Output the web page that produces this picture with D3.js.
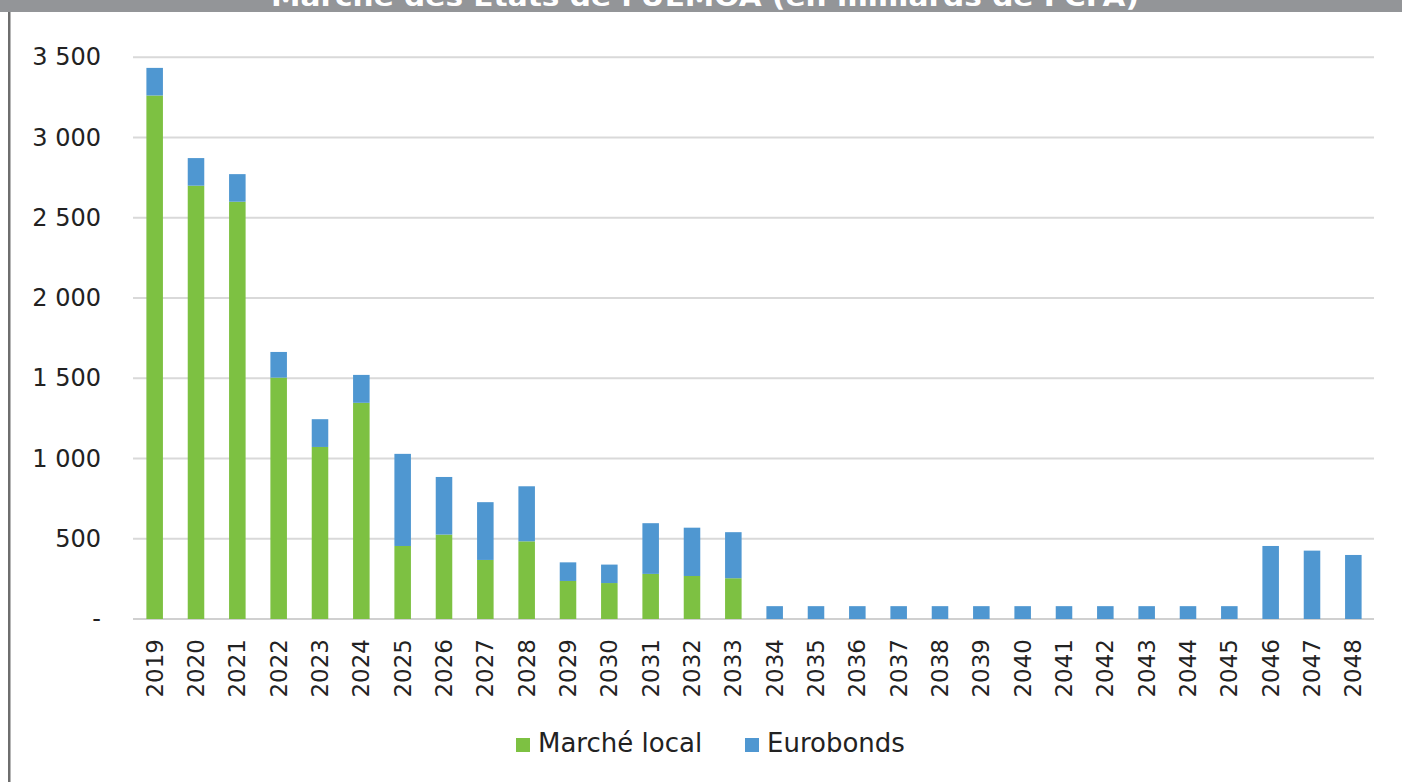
<!DOCTYPE html>
<html lang="fr">
<head>
<meta charset="UTF-8">
<title>Marché des Etats de l'UEMOA</title>
<script src="https://d3js.org/d3.v7.min.js"></script>
<style>
  body { margin: 0; background: #fff; }
  svg { display: block; font-family: "DejaVu Sans", Verdana, sans-serif; }
</style>
</head>
<body>
<div id="chart"></div>
<script>
const width = 1402;
const height = 782;

// data (milliards de FCFA)
const years = ["2019","2020","2021","2022","2023","2024","2025","2026","2027","2028",
               "2029","2030","2031","2032","2033","2034","2035","2036","2037","2038",
               "2039","2040","2041","2042","2043","2044","2045","2046","2047","2048"];
const marcheLocal = [3262, 2700, 2600, 1504, 1072, 1347, 455, 526, 368, 484,
                     237, 224, 281, 268, 254, 0, 0, 0, 0, 0,
                     0, 0, 0, 0, 0, 0, 0, 0, 0, 0];
const eurobonds = [172, 172, 172, 160, 173, 174, 574, 359, 360, 343,
                   116, 115, 316, 301, 287, 80, 80, 80, 80, 80,
                   80, 80, 80, 80, 80, 80, 80, 455, 426, 399];
const yTicks = [0, 500, 1000, 1500, 2000, 2500, 3000, 3500];
const seriesNames = ["Marché local", "Eurobonds"];
const colors = ["#7dc142", "#4f97d1"];

const margin = { left: 133, right: 28 };

const svg = d3.select("#chart").append("svg")
    .attr("width", width)
    .attr("height", height);

// frame: grey title band and left border
svg.append("rect")
    .attr("x", 0).attr("y", 0)
    .attr("width", width).attr("height", 12)
    .attr("fill", "#939598");
svg.append("rect")
    .attr("x", 8).attr("y", 12)
    .attr("width", 2.5).attr("height", height - 12)
    .attr("fill", "#6e6e6e");

// title is only partly visible in the band, as in the original
const clip = svg.append("clipPath").attr("id", "band-clip");
clip.append("rect").attr("x", 0).attr("y", 0).attr("width", width).attr("height", 12);

svg.append("text")
    .attr("clip-path", "url(#band-clip)")
    .attr("x", 705)
    .attr("y", 6)
    .attr("text-anchor", "middle")
    .attr("fill", "#fff")
    .attr("font-size", 27)
    .attr("font-weight", 600)
    .attr("textLength", 868)
    .attr("lengthAdjust", "spacingAndGlyphs")
    .text("Marché des Etats de l'UEMOA (en milliards de FCFA)");

const x = d3.scaleBand()
    .domain(years)
    .range([134, width - margin.right])
    .paddingInner(0.6)
    .paddingOuter(0.3);

const y = d3.scaleLinear()
    .domain([0, 3500])
    .range([619, 57.3]);

// gridlines
svg.append("g")
    .selectAll("line")
    .data(yTicks)
    .join("line")
    .attr("x1", margin.left)
    .attr("x2", width - margin.right)
    .attr("y1", d => y(d))
    .attr("y2", d => y(d))
    .attr("stroke", d => d === 0 ? "#d0d0d0" : "#d9d9d9")
    .attr("stroke-width", 2);

// y labels
svg.append("g")
    .selectAll("text")
    .data(yTicks)
    .join("text")
    .attr("x", 101)
    .attr("y", d => y(d) + 8)
    .attr("text-anchor", "end")
    .attr("font-size", 24)
    .attr("fill", "#222")
    .text(d => d === 0 ? "-" : d3.format(",")(d).replace(",", " "));

// stacked bars
const table = years.map((yr, i) => ({ year: yr, "Marché local": marcheLocal[i], "Eurobonds": eurobonds[i] }));
const stacked = d3.stack().keys(seriesNames)(table);

svg.append("g")
    .selectAll("g")
    .data(stacked)
    .join("g")
    .attr("fill", (d, i) => colors[i])
    .selectAll("rect")
    .data(d => d.filter(p => p[1] - p[0] > 0))
    .join("rect")
    .attr("x", d => x(d.data.year))
    .attr("width", x.bandwidth())
    .attr("y", d => y(d[1]))
    .attr("height", d => y(d[0]) - y(d[1]));

// x labels, rotated
svg.append("g")
    .selectAll("text")
    .data(years)
    .join("text")
    .attr("transform", d => `translate(${x(d) + x.bandwidth() / 2 + 8},639) rotate(-90)`)
    .attr("text-anchor", "end")
    .attr("font-size", 23)
    .attr("fill", "#222")
    .text(d => d);

// legend
const legend = svg.append("g");
const legendX = [516, 745];
seriesNames.forEach((name, i) => {
    legend.append("rect")
        .attr("x", legendX[i]).attr("y", 738)
        .attr("width", 14).attr("height", 14)
        .attr("fill", colors[i]);
    legend.append("text")
        .attr("x", legendX[i] + 22)
        .attr("y", 752)
        .attr("font-size", 26)
        .attr("fill", "#222")
        .text(name);
});
</script>
</body>
</html>
